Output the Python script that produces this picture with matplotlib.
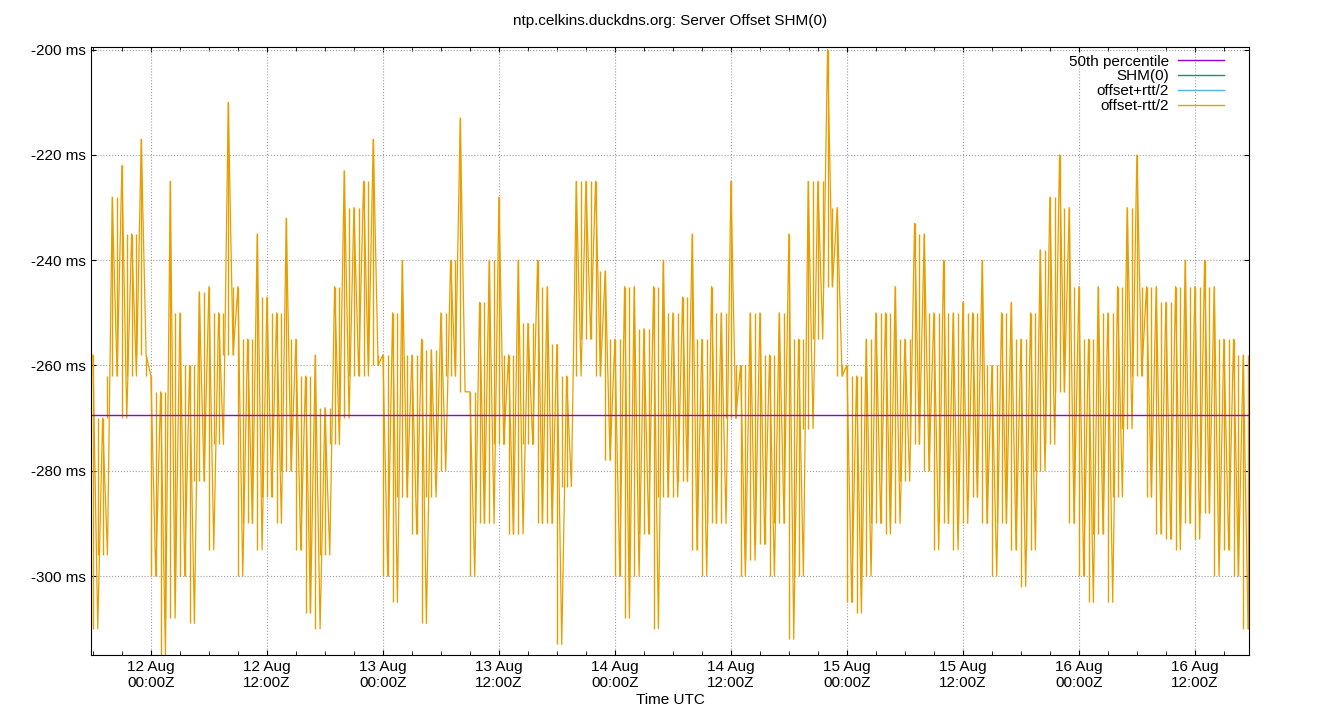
import numpy as np
import pandas as pd
import matplotlib.pyplot as plt
import matplotlib.dates as mdates
from matplotlib.lines import Line2D

# hourly envelope, starting 11 Aug 18:00Z (ms)
hi = [-258, -270, -228, -222, -235, -217, -262, -265, -225, -250, -260, -246,
      -245, -250, -210, -245, -255, -235, -247, -250, -232, -255, -262, -258,
      -268, -245, -223, -230, -225, -217, -258, -250, -240, -258, -255, -257,
      -250, -240, -213, -265, -248, -240, -228, -258, -240, -252, -240, -245,
      -256, -262, -225, -225, -225, -242, -255, -245, -245, -253, -245, -240,
      -250, -247, -235, -255, -245, -250, -225, -260, -250, -250, -258, -250,
      -235, -255, -225, -225, -200, -230, -260, -262, -255, -250, -250, -245,
      -255, -233, -235, -250, -240, -250, -248, -250, -240, -260, -250, -248,
      -255, -250, -238, -228, -220, -230, -245, -255, -245, -250, -245, -230,
      -220, -245, -245, -248, -245, -240, -245, -240, -245, -255, -255, -258]
lo = [-310, -296, -262, -270, -262, -258, -300, -315, -308, -300, -309, -282,
      -295, -275, -258, -300, -290, -295, -285, -290, -280, -295, -307, -310,
      -296, -275, -270, -262, -262, -260, -300, -305, -285, -292, -309, -285,
      -280, -262, -265, -300, -290, -290, -275, -292, -292, -275, -290, -290,
      -313, -283, -262, -255, -262, -278, -300, -308, -300, -292, -310, -285,
      -285, -282, -295, -300, -290, -290, -270, -300, -297, -294, -300, -290,
      -312, -300, -272, -255, -245, -262, -305, -307, -300, -290, -292, -290,
      -282, -275, -280, -295, -290, -295, -290, -285, -290, -300, -290, -295,
      -302, -295, -280, -275, -265, -290, -300, -305, -292, -305, -285, -272,
      -262, -285, -292, -293, -295, -290, -293, -288, -300, -295, -300, -310]
median_ms = -269.5

start = pd.Timestamp('2025-08-11 18:00')
t_hi = start + pd.to_timedelta(np.arange(len(hi)), unit='h')
t_lo = t_hi + pd.Timedelta(minutes=30)
t = np.empty(2 * len(hi), dtype='datetime64[ns]')
t[0::2] = t_hi.values
t[1::2] = t_lo.values
y = np.empty(2 * len(hi))
y[0::2] = hi
y[1::2] = lo

ORANGE = '#e69f00'
plt.rcParams['font.family'] = ['Liberation Sans', 'DejaVu Sans']
fig = plt.figure(figsize=(13.4, 7.2), dpi=100)
ax = fig.add_axes([91 / 1340, 1 - 655 / 720, 1158 / 1340, 608 / 720])

ax.vlines(t_hi, lo, hi, color=ORANGE, lw=1.0)
ax.vlines(t_lo, [max(a, b) for a, b in zip(lo, lo[1:] + lo[-1:])],
          [min(a, b) for a, b in zip(hi, hi[1:] + hi[-1:])], color=ORANGE, lw=1.0)
ax.plot(t, y, color=ORANGE, lw=0.9)
ax.axhline(median_ms, color='#9400d3', lw=1)

handles = [Line2D([], [], color=c, lw=1) for c in ['#9400d3', '#009e73', '#56b4e9', ORANGE]]
labels = ['50th percentile', 'SHM(0)', 'offset+rtt/2', 'offset-rtt/2']

ax.set_xlim(pd.Timestamp('2025-08-11 17:48'), pd.Timestamp('2025-08-16 17:36'))
ax.set_ylim(-315, -199.5)
ax.set_yticks(np.arange(-300, -199, 20))
ax.set_yticklabels([f'{v} ms' for v in range(-300, -199, 20)])
ax.xaxis.set_major_locator(mdates.HourLocator(byhour=[0, 12]))
ax.xaxis.set_major_formatter(mdates.DateFormatter('%d %b\n%H:%MZ'))
ax.xaxis.set_minor_locator(mdates.HourLocator(byhour=[3, 6, 9, 15, 18, 21]))
ax.tick_params(which='both', direction='in', top=True, right=True, labelsize=11)
ax.tick_params(which='minor', length=3)
ax.grid(True, which='major', color='#a0a0a0', linestyle=':', lw=0.8)
for s in ax.spines.values():
    s.set_linewidth(0.8)

ax.set_xlabel('Time UTC', fontsize=11, labelpad=2)
ax.set_title('ntp.celkins.duckdns.org: Server Offset SHM(0)', fontsize=11, pad=16)
leg = ax.legend(handles, labels, loc='upper right', frameon=False, markerfirst=False,
                fontsize=11, handlelength=3, labelspacing=0.05, borderaxespad=0.1,
                handletextpad=0.6, bbox_to_anchor=(0.985, 1.0))
leg.set_zorder(5)

plt.savefig('out.png', dpi=100, facecolor='white')
